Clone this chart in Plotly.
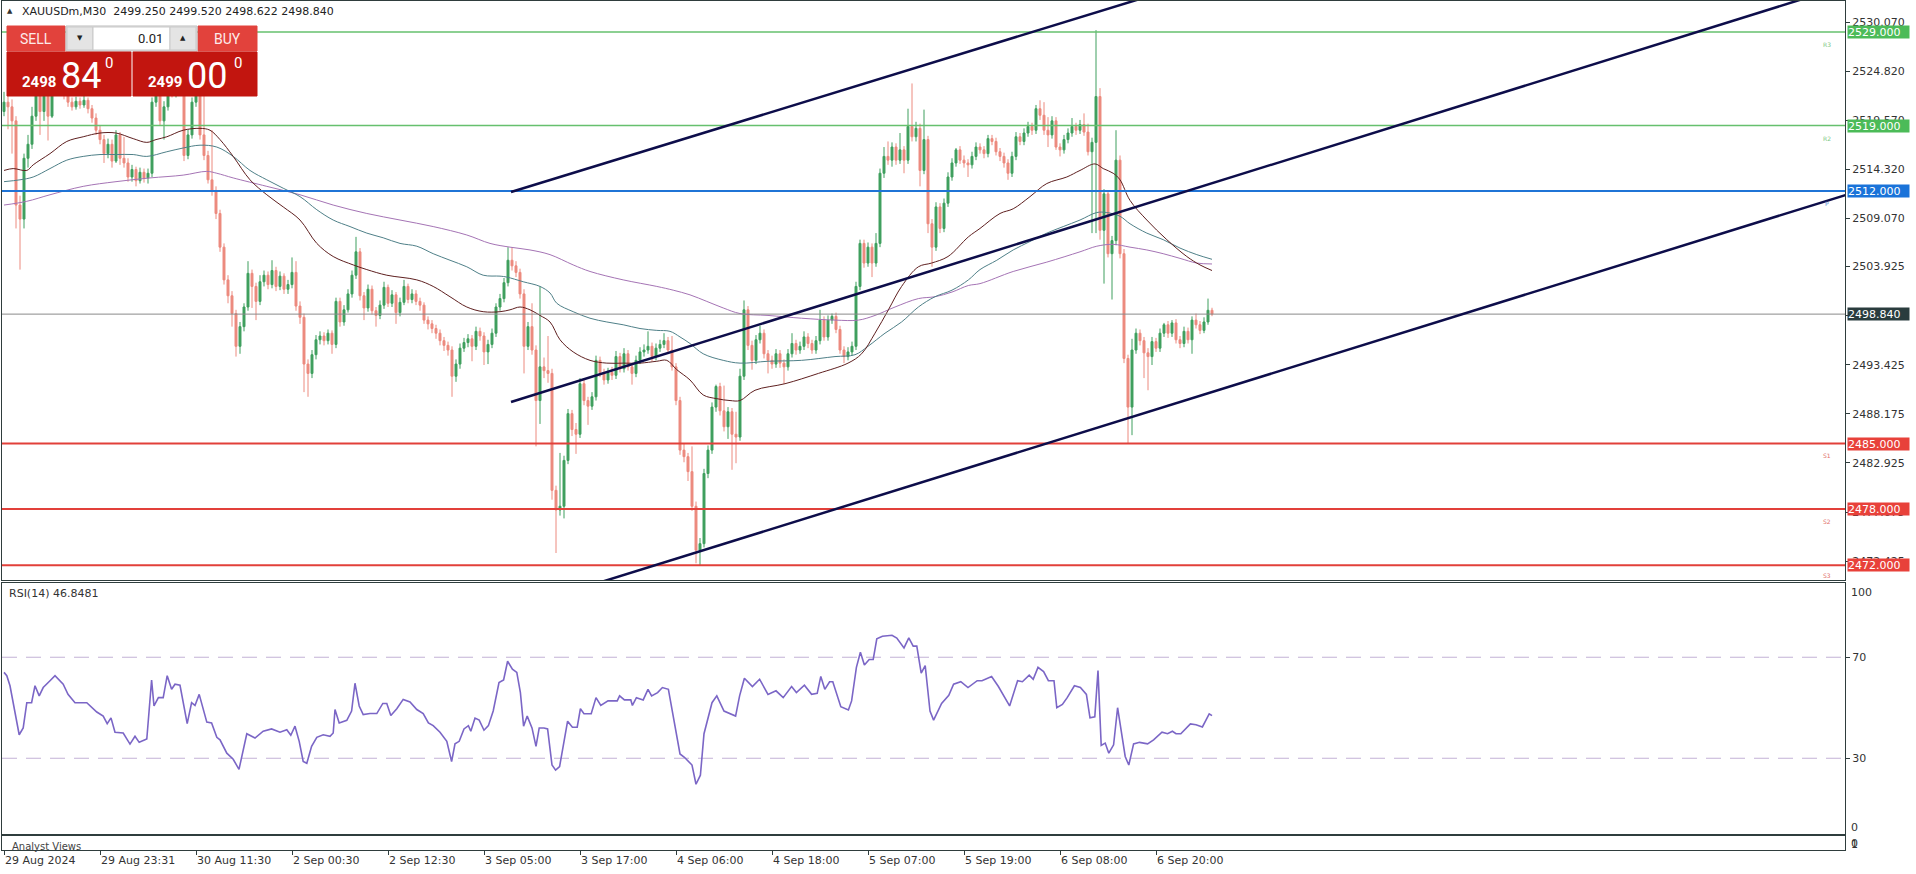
import plotly.graph_objects as go

# ---------------- data ----------------
FIRST_OPEN = 2520.5
CLOSE = [
 2521.5,2521.0,2519.5,2510.5,2509.0,2515.5,2517.0,2520.0,2522.5,2520.5,
 2523.5,2520.0,2523.0,2524.0,2523.0,2522.5,2521.5,2521.0,2521.6,2521.2,
 2521.7,2520.8,2519.8,2518.5,2517.5,2516.0,2517.0,2515.2,2518.0,2515.5,
 2515.0,2513.5,2514.3,2513.1,2514.0,2513.4,2513.9,2521.5,2522.5,2519.5,
 2521.0,2523.5,2522.5,2523.8,2522.8,2515.8,2518.0,2521.5,2522.5,2518.0,
 2515.8,2513.2,2512.0,2509.6,2506.0,2502.5,2500.8,2498.9,2495.4,2497.5,
 2499.6,2503.2,2501.8,2500.2,2502.3,2503.0,2502.0,2503.5,2501.8,2502.9,
 2501.5,2502.0,2503.3,2499.7,2498.5,2493.5,2492.5,2494.5,2496.1,2496.5,
 2496.0,2496.8,2495.6,2500.2,2498.0,2499.3,2501.0,2503.0,2505.5,2500.8,
 2499.5,2501.5,2499.2,2498.7,2499.8,2501.7,2500.0,2500.9,2499.0,2500.1,
 2501.8,2500.4,2501.0,2500.2,2499.8,2498.2,2497.8,2497.3,2496.8,2496.0,
 2495.5,2495.0,2492.2,2493.5,2495.2,2495.8,2496.2,2495.4,2497.0,2496.5,
 2494.8,2495.6,2496.8,2499.6,2500.5,2502.2,2504.6,2504.0,2503.3,2501.0,
 2495.4,2497.5,2495.0,2489.6,2493.2,2492.8,2492.5,2480.0,2477.9,2478.3,
 2483.2,2488.2,2486.5,2486.0,2491.4,2489.6,2489.0,2490.0,2493.9,2492.6,
 2491.8,2492.6,2492.3,2494.3,2493.0,2494.6,2493.2,2492.5,2493.9,2494.8,
 2495.0,2495.4,2494.3,2495.2,2495.6,2496.0,2495.0,2493.2,2489.6,2484.3,
 2483.6,2482.0,2478.3,2473.6,2474.3,2481.8,2484.3,2488.9,2491.1,2488.5,
 2486.8,2488.4,2486.0,2485.7,2492.2,2499.3,2495.5,2493.9,2496.1,2496.8,
 2494.6,2493.9,2493.5,2494.6,2493.6,2493.2,2494.6,2495.7,2495.0,2495.4,
 2496.4,2495.7,2495.0,2496.0,2498.2,2496.4,2498.2,2498.6,2497.2,2495.0,
 2494.3,2494.8,2495.4,2501.8,2506.4,2504.3,2506.0,2504.3,2506.4,2513.9,
 2515.7,2515.3,2516.7,2515.3,2516.4,2515.3,2518.9,2517.8,2518.7,2514.2,
 2517.5,2508.5,2506.0,2510.3,2508.0,2510.7,2513.5,2515.0,2516.4,2515.3,
 2515.0,2514.8,2515.7,2516.7,2516.4,2516.0,2517.6,2517.3,2516.2,2515.7,
 2515.0,2513.9,2515.7,2517.8,2517.3,2518.2,2518.9,2518.5,2520.8,2520.1,
 2518.5,2518.0,2519.5,2516.7,2516.4,2517.5,2518.2,2518.9,2518.5,2519.1,
 2518.3,2516.2,2517.2,2522.1,2507.8,2511.7,2505.3,2506.7,2515.3,2505.3,
 2494.1,2488.9,2495.0,2496.8,2496.0,2494.7,2494.3,2495.9,2495.2,2496.8,
 2497.7,2496.8,2497.9,2496.1,2495.7,2497.0,2496.1,2498.2,2497.7,2497.1,
 2498.0,2499.25,2498.84]
HIGH = [
 2522.6,2522.2,2521.8,2520.0,2511.5,2516.0,2518.0,2521.0,2524.0,2523.0,
 2525.0,2524.0,2524.5,2525.0,2524.8,2523.6,2523.0,2522.0,2522.1,2522.0,
 2522.2,2522.0,2521.2,2520.3,2519.0,2518.0,2517.6,2517.5,2518.5,2518.3,
 2517.8,2515.5,2514.8,2514.6,2514.5,2514.4,2514.4,2522.0,2524.0,2523.0,
 2521.6,2525.0,2524.3,2524.6,2524.4,2523.2,2518.6,2522.0,2523.8,2523.0,
 2522.3,2516.3,2518.5,2512.5,2510.0,2506.4,2503.0,2501.3,2499.3,2498.0,
 2500.0,2504.5,2503.6,2502.2,2503.0,2503.5,2503.4,2504.6,2503.9,2503.4,
 2503.2,2502.5,2504.9,2504.5,2500.2,2498.9,2494.0,2495.0,2496.6,2497.0,
 2496.9,2497.2,2497.1,2500.6,2500.6,2499.8,2501.5,2503.5,2507.1,2505.9,
 2501.2,2502.0,2501.9,2499.6,2500.3,2502.3,2502.0,2501.4,2501.2,2500.6,
 2502.5,2502.1,2501.5,2501.4,2500.6,2500.1,2498.6,2498.2,2497.7,2497.2,
 2496.4,2495.9,2495.4,2494.0,2495.7,2496.3,2496.7,2496.6,2497.5,2497.4,
 2496.9,2496.1,2497.3,2500.0,2501.0,2502.7,2506.0,2506.0,2504.5,2503.7,
 2501.5,2498.0,2500.0,2495.5,2501.8,2494.2,2496.5,2493.0,2480.5,2484.0,
 2483.7,2488.7,2488.6,2487.2,2492.0,2491.8,2490.0,2490.5,2494.4,2494.3,
 2493.0,2493.1,2493.2,2494.9,2494.7,2495.2,2495.0,2493.6,2494.4,2495.3,
 2495.6,2497.0,2495.8,2495.7,2496.1,2496.8,2496.4,2496.5,2493.6,2490.0,
 2485.0,2484.0,2484.7,2478.8,2474.9,2482.3,2484.8,2489.4,2491.3,2491.5,
 2491.2,2488.9,2488.8,2488.4,2493.0,2500.3,2499.7,2496.0,2496.6,2497.6,
 2497.2,2495.0,2494.4,2495.1,2495.0,2494.0,2495.1,2496.8,2496.1,2495.9,
 2497.0,2496.8,2496.1,2496.5,2499.3,2498.6,2498.7,2498.9,2499.0,2497.6,
 2495.4,2495.3,2495.9,2502.3,2506.8,2506.8,2506.5,2506.4,2507.5,2514.4,
 2516.7,2517.3,2517.2,2517.1,2518.2,2516.8,2520.8,2523.5,2519.4,2519.2,
 2520.7,2517.9,2509.0,2510.8,2510.7,2511.2,2514.0,2515.5,2516.6,2516.8,
 2515.8,2515.4,2516.2,2517.2,2517.1,2516.8,2518.0,2518.0,2517.7,2516.6,
 2516.1,2515.4,2516.2,2518.3,2518.2,2518.7,2519.4,2519.3,2521.2,2521.7,
 2521.5,2519.9,2520.0,2519.9,2517.1,2518.0,2518.7,2519.8,2519.3,2519.6,
 2520.3,2519.2,2517.7,2529.2,2523.0,2512.2,2512.0,2507.2,2518.5,2515.8,
 2505.8,2494.5,2496.2,2497.3,2497.2,2496.4,2495.2,2496.4,2496.3,2497.3,
 2497.9,2498.1,2498.2,2498.3,2496.5,2497.5,2497.4,2498.6,2498.9,2498.1,
 2498.5,2500.5,2499.52]
LOW = [
 2520.0,2518.6,2516.0,2508.0,2503.6,2508.0,2514.5,2516.5,2519.5,2518.0,
 2519.5,2517.4,2519.8,2522.5,2522.6,2521.8,2521.0,2520.6,2520.7,2520.8,
 2520.9,2520.3,2519.3,2518.0,2517.0,2515.0,2515.5,2514.5,2515.0,2514.8,
 2514.5,2513.0,2513.0,2512.5,2512.8,2512.9,2512.8,2513.5,2521.0,2519.0,
 2517.5,2520.6,2522.0,2522.0,2522.3,2515.2,2515.4,2517.6,2521.0,2517.5,
 2515.3,2512.8,2511.5,2509.0,2505.5,2502.0,2500.0,2497.5,2494.3,2494.6,
 2497.0,2499.2,2499.5,2498.2,2499.8,2501.8,2501.5,2501.6,2501.3,2501.4,
 2501.0,2501.0,2501.6,2499.2,2497.8,2490.5,2490.0,2492.0,2494.0,2495.6,
 2495.5,2495.6,2494.6,2495.2,2497.5,2497.6,2499.0,2500.6,2502.6,2500.3,
 2498.2,2499.1,2498.8,2497.5,2498.3,2499.4,2499.6,2499.6,2497.8,2498.6,
 2499.8,2500.0,2500.0,2499.8,2499.2,2497.8,2497.2,2496.8,2496.2,2495.5,
 2494.9,2494.4,2490.0,2491.6,2493.0,2494.8,2495.3,2493.8,2495.0,2496.0,
 2493.4,2493.5,2495.2,2496.4,2499.2,2500.1,2501.8,2503.5,2502.8,2500.5,
 2492.5,2495.0,2494.5,2484.7,2487.1,2492.0,2491.5,2479.0,2473.3,2477.3,
 2477.0,2482.8,2485.8,2483.9,2485.6,2489.1,2487.0,2488.6,2489.6,2492.1,
 2491.3,2491.4,2491.8,2491.9,2492.6,2492.6,2492.8,2491.3,2492.1,2493.5,
 2494.3,2494.6,2493.8,2493.9,2494.8,2495.2,2494.6,2492.8,2489.1,2483.8,
 2483.0,2481.0,2477.8,2472.2,2472.0,2473.9,2481.3,2483.9,2488.4,2488.0,
 2486.3,2485.5,2482.2,2482.9,2485.3,2491.8,2495.0,2492.9,2493.5,2495.7,
 2494.1,2492.5,2493.0,2493.1,2493.1,2491.4,2492.8,2494.2,2494.5,2494.6,
 2495.0,2495.2,2494.6,2494.6,2495.6,2496.0,2496.0,2497.8,2496.8,2494.6,
 2493.6,2493.9,2494.4,2495.0,2501.4,2503.8,2503.9,2502.8,2503.9,2506.0,
 2513.4,2514.8,2514.6,2514.8,2514.9,2513.9,2514.9,2517.3,2517.3,2512.5,
 2513.8,2507.5,2503.9,2505.6,2507.5,2507.6,2510.3,2513.1,2514.6,2514.9,
 2514.5,2513.5,2514.4,2515.3,2516.0,2515.5,2515.6,2516.9,2515.8,2515.2,
 2514.5,2513.2,2513.5,2515.3,2516.9,2516.9,2517.8,2518.0,2518.1,2519.6,
 2518.0,2516.7,2517.6,2516.4,2515.7,2516.0,2517.1,2517.8,2518.0,2518.1,
 2517.9,2515.8,2507.5,2507.5,2506.8,2502.1,2504.9,2500.4,2506.2,2504.8,
 2493.6,2485.0,2485.9,2494.6,2495.5,2492.0,2490.7,2493.4,2494.8,2494.8,
 2496.4,2496.3,2496.4,2495.7,2495.2,2495.3,2495.7,2494.6,2497.3,2496.7,
 2496.8,2497.7,2498.622]

MA_FAST_X = [0,2.3,5.7,7.3,11.5,15.7,19.8,24,28,32.3,35.7,38,40.7,44.8,49,51.5,54,57.3,61.5,65.7,
 69.8,74,78.2,82.3,87.3,90.7,95.7,103.2,107.3,111.5,115.7,119.8,124,126.5,129,131.5,134,136.5,139,142.3,
 146.5,150.7,154.8,159,163.2,165.7,168.2,171.5,174.8,178.2,181.5,184,187.75,195.25,203.6,211,214.4,217.75,221.1,224.4,
 228.6,231.9,236,241.1,244,249,252.3,256.5,260.7,265.7,269,272.75,274.8,277.3,279,281.5,285.7,290.7,295.7,299,302]
MA_FAST = [2514.2,2514.4,2514.2,2514.8,2516.0,2517.3,2517.8,2518.2,2518.2,2517.6,2517.2,2517.5,2517.8,2518.5,2518.7,2518.5,2517.5,2515.7,2513.2,2511.6,
 2510.3,2508.9,2506.4,2505.0,2504.1,2503.6,2503.0,2502.5,2501.8,2500.7,2499.6,2499.1,2499.1,2499.3,2499.6,2499.3,2498.7,2498.0,2496.1,2494.8,
 2493.9,2493.6,2493.6,2493.6,2493.8,2493.9,2492.9,2491.8,2490.2,2489.8,2489.6,2489.6,2490.7,2491.4,2492.5,2493.6,2494.6,2496.8,2499.3,2501.8,
 2503.9,2504.3,2505.0,2507.1,2508.0,2509.6,2510.1,2511.4,2512.8,2513.5,2514.2,2514.9,2514.4,2513.9,2513.2,2511.0,2508.9,2506.8,2505.0,2504.1,2503.5]

MA_MID_X = [0,4,7.3,11.5,15.7,19.8,24,28,32.3,35.7,40.7,44.8,49,53.2,57.3,61.5,65.7,69.8,74,78.2,
 82.3,86.5,90.7,94.8,99,103.2,107.3,111.5,115.7,119.8,124,125.7,129.8,134,136.5,138.2,142.3,146.5,150.7,154.8,
 159,163.2,166.5,169,171.5,174.8,179.8,184,191,199.4,207.75,212.75,216,220.25,224.4,228.6,232.75,237,241.1,244,
 248.2,252.3,256.5,260.7,264.8,269,273.2,275.7,279,281.5,285.7,289.8,294,298.2,302]
MA_MID = [2513.0,2513.2,2513.5,2514.4,2515.3,2515.7,2515.9,2515.9,2515.9,2515.7,2516.2,2516.6,2516.9,2516.7,2515.7,2514.2,2513.2,2512.3,2511.4,2510.0,
 2508.9,2508.2,2507.5,2507.0,2506.4,2506.1,2505.3,2504.6,2503.9,2503.0,2502.9,2502.8,2502.3,2501.8,2501.1,2500.0,2499.1,2498.4,2498.0,2497.7,
 2497.3,2497.1,2497.0,2496.4,2495.7,2494.6,2493.9,2493.6,2493.8,2493.9,2494.3,2494.5,2495.4,2496.8,2498.0,2499.6,2500.7,2501.4,2502.5,2503.6,
 2504.6,2505.7,2506.6,2507.5,2508.2,2508.9,2509.7,2509.7,2509.3,2508.5,2507.5,2506.8,2505.9,2505.2,2504.7]

MA_SLOW_X = [0,5.7,11.5,19.8,28,36.5,44.8,50.7,53.2,57.3,65.7,74,82.3,90.7,99,107.3,115.7,121.5,126.5,131.5,
 136.5,142.3,146.5,154.8,163.2,167.3,171.5,175.7,179.8,184,191,199.4,207.75,213.6,217.75,222.75,228.6,232.75,237,241.1,
 244,252.3,260.7,269,273.2,277.3,281.5,285.7,289.8,294,298.2,302]
MA_SLOW = [2510.5,2510.9,2511.6,2512.5,2513.0,2513.4,2513.7,2514.1,2513.9,2513.4,2512.5,2511.6,2510.5,2509.6,2508.9,2508.2,2507.3,2506.4,2506.0,2505.7,
 2505.2,2504.1,2503.4,2502.5,2501.8,2501.4,2500.9,2500.2,2499.5,2498.9,2498.7,2498.4,2498.2,2498.2,2498.7,2499.6,2500.5,2500.7,2501.2,2501.9,
 2502.1,2503.4,2504.4,2505.5,2506.1,2506.3,2506.0,2505.7,2505.3,2504.8,2504.3,2504.2]

RSI_X = [0,0.7,1.5,2.3,3.8,4.8,5.7,6.9,7.75,8.8,9.8,11.5,12.75,14.8,16,17.75,20.7,23.2,24.8,25.8,
 26.75,27.75,29.8,31.5,32.75,33.8,35.7,36.3,36.9,37.5,38.6,39.8,40.8,41.9,42.75,44,45.8,46.9,47.75,48.8,
 50.7,51.9,53.2,54,55.7,57.3,58.75,60.7,62.75,64.8,66.9,69,70.7,71.7,72.75,73.8,74.8,75.7,76.9,78.2,
 79.8,81.5,82.3,82.75,83.8,85.7,86.9,87.75,88.8,89.8,91.5,93.2,94.7,95.7,96.7,98.2,99.8,101.5,103.2,104.8,
 106.1,107.3,109,110.7,111.9,112.75,113.8,115,116.1,116.7,117.75,118.8,120,121.1,122.3,123.75,124.9,125.9,127.1,128.2,
 129.1,129.9,130.8,132,133,133.8,135,135.9,137,137.9,138.9,140.9,142.1,143.3,144.1,145,146.8,148,149.2,151,
 153.3,153.9,155.1,156.7,157.1,158.1,159.8,161,161.9,163.4,164.6,166.1,167.5,169,170.1,172,173,174.1,175,177,
 178.2,180,182.9,183.9,185.1,187.1,188.9,191,193,194.8,196.9,198.1,200.1,201.9,203.3,204.2,205.2,206.4,207.2,209.2,
 211.1,211.9,213.1,214.1,215.1,216.3,217.3,218.2,219.6,222,223.2,225,226.2,227.3,228.2,229.3,230.3,231.5,232.4,234.4,
 236.2,237.4,239.2,241,243.3,244.5,246.9,248.6,251.4,253.4,254.6,256.3,257.3,258.5,259.9,261.1,262.5,263.2,264.6,265.8,
 267.6,269.1,270.6,271.5,272.7,273.5,274.3,275.3,276.2,277.4,278.4,279.4,280.3,281.2,282.4,283.9,285.9,287.4,289.5,290.9,
 292.1,293,294.2,296.6,298,299.6,301.3,302]
RSI_V = [64.0,62.7,58.7,52.0,39.3,42,52,52,58.7,54.7,58,60.7,62.7,59.3,55.3,52,52,48.3,46.7,43.7,
 46,40.3,40,35.6,38.7,36.3,37.6,49.3,61,50.7,54,54,62.7,57.3,59.3,58.9,43.7,52,50.9,55.3,
 44.3,44,38.3,37.3,32,29.6,25.6,39.7,38,40.7,41.6,40.3,41.3,39.1,42.7,36.7,28.7,28,34.7,38.3,
 39.3,38.7,40,49.3,44,45,48.7,59.7,50.7,47.3,47.7,47.7,51.7,51.7,46.9,49.6,53.3,52.3,49.3,47.7,
 44,42.9,40.3,36.7,28.7,35.7,36.7,41.6,42.9,40.7,45.9,45.1,41.1,42.9,48.7,60,61,68.4,65.3,64,
 56,42.7,46.7,42,34.7,42,42,41.6,27.3,25.3,26.7,44.7,42.3,42.3,49.6,47.6,47.6,54,50.9,52.7,
 52.7,54.7,53.1,53.1,50.9,54,53.1,57.3,54.7,56,58,57.3,45.3,31.7,30.4,27.3,19.7,23.3,39.7,52,
 54.7,48.7,46.7,54.7,61.7,58.4,61.3,55.3,56.7,54,58.4,56,58.9,55.3,55.7,62.4,57.3,60.3,60.3,50.4,
 49.1,52.7,66,72,66.9,69.1,69.1,77.3,78.3,78.7,77.6,73.7,77.7,74.4,74.4,63.7,66.7,48.7,45.1,51.7,
 54.9,59.3,60.3,58,60.7,60.7,62.4,58.4,50.7,60.7,60.3,62.9,61.3,66,64.3,60.7,60.7,50,51.3,54,
 58.7,58,55.3,46,46.4,64.7,35.1,36,32,35.3,50,40,30.7,27.3,35.7,36.3,35.7,37.3,40.3,39.7,
 40.7,39.7,39.7,43.6,43.3,42.4,47.6,46.85]

LEVEL_PRICES = [2529.0, 2519.0, 2512.0, 2485.0, 2478.0, 2472.0]
LEVEL_NAMES = ["R3", "R2", "P", "S1", "S2", "S3"]
CURRENT_PRICE = 2498.84
OHLC_TEXT = "2499.250 2499.520 2498.622 2498.840"
SYMBOL = "XAUUSDm,M30"
RSI_LAST = "RSI(14) 46.8481"

PRICE_TICKS = [2530.070, 2524.820, 2519.570, 2514.320, 2509.070, 2503.925,
               2498.675, 2493.425, 2488.175, 2482.925, 2477.675, 2472.425]
PRICE_TICK_TEXT = ["2530.070", "2524.820", "2519.570", "2514.320", "2509.070", "2503.925",
                   "2498.675", "2493.425", "2488.175", "2482.925", "2477.675", "2472.425"]
TIME_TICK_BARS = [0, 24, 48, 72, 96, 120, 144, 168, 192, 216, 240, 264, 288]
TIME_TICK_TEXT = ["29 Aug 2024", "29 Aug 23:31", "30 Aug 11:30", "2 Sep 00:30", "2 Sep 12:30",
                  "3 Sep 05:00", "3 Sep 17:00", "4 Sep 06:00", "4 Sep 18:00", "5 Sep 07:00",
                  "5 Sep 19:00", "6 Sep 08:00", "6 Sep 20:00"]

# trend / channel lines: anchor points (bar index, price)
TL_X0 = [126.75, 126.75, 146.5]
TL_P0 = [2511.90, 2489.45, 2469.83]
TL_X1 = [289.0, 451.5, 464.0]
TL_P1 = [2533.19, 2532.77, 2512.05]

SELL_BIG, SELL_SMALL = "84", "2498"
BUY_BIG, BUY_SMALL = "00", "2499"
LOT = "0.01"

# ---------------- style / layout constants ----------------
W, HGT = 1916, 874
ML, MR, MT, MB = 2, 71, 1, 24
PW = W - ML - MR
PH = HGT - MT - MB
X_RANGE = [-0.5, 460.25]
Y_MAIN = [2470.415, 2532.315]
Y_RSI = [0, 99.4]

GREEN_C = "#3f9f5e"
RED_C = "#ec8a7e"
AXIS_C = "#2f3d3d"
FONT = "DejaVu Sans"
LEVEL_COLORS = ["#66c06e", "#66c06e", "#1f74d6", "#e2403a", "#e2403a", "#e2403a"]
LABEL_BG = ["#4cbb58", "#4cbb58", "#1a73d9", "#e8413a", "#e8413a", "#e8413a"]


def xp(px):
    return (px - ML) / PW


def yp(py):
    return (HGT - MB - py) / PH


OPEN = [FIRST_OPEN] + CLOSE[:-1]
HIGH = [max(h, o, c) for h, o, c in zip(HIGH, OPEN, CLOSE)]
LOW = [min(l, o, c) for l, o, c in zip(LOW, OPEN, CLOSE)]
BARS = list(range(len(CLOSE)))

fig = go.Figure()
fig.add_trace(go.Candlestick(
    x=BARS, open=OPEN, high=HIGH, low=LOW, close=CLOSE,
    increasing=dict(line=dict(color=GREEN_C, width=1), fillcolor=GREEN_C),
    decreasing=dict(line=dict(color=RED_C, width=1), fillcolor=RED_C),
    whiskerwidth=0, xaxis="x", yaxis="y", hoverinfo="skip"))

for xs, ys, col in [(MA_SLOW_X, MA_SLOW, "#a574b5"), (MA_MID_X, MA_MID, "#4f8088"),
                    (MA_FAST_X, MA_FAST, "#5e1f1f")]:
    fig.add_trace(go.Scatter(x=xs, y=ys, mode="lines", line=dict(color=col, width=1),
                             line_shape="spline", xaxis="x", yaxis="y", hoverinfo="skip"))

fig.add_trace(go.Scatter(x=X_RANGE, y=[CURRENT_PRICE] * 2, mode="lines",
                         line=dict(color="#8a8a8a", width=1), xaxis="x", yaxis="y"))
for p, col in zip(LEVEL_PRICES, LEVEL_COLORS):
    wdt = 1.5 if col == "#66c06e" else 2
    fig.add_trace(go.Scatter(x=X_RANGE, y=[p, p], mode="lines",
                             line=dict(color=col, width=wdt), xaxis="x", yaxis="y"))
for x0, p0, x1, p1 in zip(TL_X0, TL_P0, TL_X1, TL_P1):
    fig.add_trace(go.Scatter(x=[x0, x1], y=[p0, p1], mode="lines",
                             line=dict(color="#0d0d4a", width=2.5), xaxis="x", yaxis="y"))

# RSI
for lv in (70, 30):
    fig.add_trace(go.Scatter(x=X_RANGE, y=[lv, lv], mode="lines",
                             line=dict(color="#c3b1d6", width=1, dash="15px,9px"),
                             xaxis="x2", yaxis="y2"))
fig.add_trace(go.Scatter(x=RSI_X, y=RSI_V, mode="lines", line=dict(color="#7b66c6", width=1.6),
                         xaxis="x2", yaxis="y2"))
fig.add_trace(go.Scatter(x=[0], y=[0.5], mode="markers", marker=dict(opacity=0),
                         xaxis="x3", yaxis="y3"))

axis_common = dict(showline=True, mirror=True, linecolor=AXIS_C, linewidth=1,
                   showgrid=False, zeroline=False)
fig.update_layout(
    width=W, height=HGT, margin=dict(l=ML, r=MR, t=MT, b=MB),
    paper_bgcolor="white", plot_bgcolor="white", showlegend=False,
    hovermode=False,
    xaxis=dict(domain=[0, 1], range=X_RANGE, anchor="y", showticklabels=False,
               rangeslider=dict(visible=False), **axis_common),
    xaxis2=dict(domain=[0, 1], range=X_RANGE, anchor="y2", matches="x", showticklabels=False,
                **axis_common),
    xaxis3=dict(domain=[0, 1], range=X_RANGE, anchor="y3", matches="x",
                tickvals=TIME_TICK_BARS, ticktext=TIME_TICK_TEXT, ticks="outside", ticklen=4,
                tickcolor=AXIS_C, ticklabelposition="outside right",
                tickfont=dict(family=FONT, size=11, color="#333"), **axis_common),
    yaxis=dict(domain=[yp(580), yp(1)], range=Y_MAIN, side="right", anchor="x",
               tickvals=PRICE_TICKS, ticktext=PRICE_TICK_TEXT, ticks="outside", ticklen=4,
               tickcolor=AXIS_C, tickfont=dict(family=FONT, size=11, color="#333"), **axis_common),
    yaxis2=dict(domain=[yp(834), yp(583)], range=Y_RSI, side="right", anchor="x2",
                tickvals=[70, 30], ticktext=["70", "30"], ticks="outside", ticklen=4,
                tickcolor=AXIS_C, tickfont=dict(family=FONT, size=11, color="#333"), **axis_common),
    yaxis3=dict(domain=[yp(850), yp(836)], range=[0, 1], side="right", anchor="x3",
                showticklabels=False, **axis_common),
)

ann = []
shapes = []


def text(px, py, s, size=11, color="#333", family=FONT, xanchor="left", yanchor="middle", **kw):
    ann.append(dict(x=xp(px), y=yp(py), xref="paper", yref="paper", text=s, showarrow=False,
                    xanchor=xanchor, yanchor=yanchor,
                    font=dict(family=family, size=size, color=color), **kw))


def rect(x0, y0, x1, y1, fill, line=None):
    shapes.append(dict(type="rect", xref="paper", yref="paper", x0=xp(x0), x1=xp(x1),
                       y0=yp(y1), y1=yp(y0), fillcolor=fill, layer="above",
                       line=dict(color=line or fill, width=1)))


# price labels on the right axis
for p, bg in zip(LEVEL_PRICES + [CURRENT_PRICE], LABEL_BG + ["#2a3c3e"]):
    ann.append(dict(x=xp(1847), y=p, xref="paper", yref="y", text=f"{p:.3f}", showarrow=False,
                    xanchor="left", yanchor="middle", width=61, height=12, borderpad=0,
                    align="left", bgcolor=bg, font=dict(family=FONT, size=11, color="white")))

# level names
for nm, py, col in zip(LEVEL_NAMES, [44, 138, 203, 455, 522, 576],
                       ["#7cc884", "#7cc884", "#5b8fd8", "#e2706a", "#e2706a", "#e2706a"]):
    text(1827, py, nm, size=6, color=col, xanchor="center")

# RSI axis extremes & analyst panel axis
text(1849, 592, "100")
text(1849, 827, "0")
text(1849, 843, "0")
text(1849, 844, "1")

# headers
text(10, 11, "▲", size=7, color="#333", xanchor="center")
text(20, 12, SYMBOL + "  " + OHLC_TEXT, size=11, color="#222")
text(7, 593, RSI_LAST, size=11, color="#333")
text(10, 846, "Analyst Views", size=10, color="#444")

# one-click trading panel
rect(7, 26, 65, 51, "#e2423c")
rect(198, 26, 257, 51, "#e2423c")
rect(66, 26, 197, 51, "#efefef", "#bdbdbd")
rect(67, 27, 93, 50, "#e4e4e4", "#c9c9c9")
rect(93, 27, 170, 50, "#ffffff", "#c9c9c9")
rect(170, 27, 196, 50, "#e4e4e4", "#c9c9c9")
rect(7, 52, 131, 96, "#c2150f")
rect(133, 52, 257, 96, "#c2150f")
text(36, 39, "SELL", size=14, color="#fdeaea", family="Roboto", xanchor="center")
text(227, 39, "BUY", size=14, color="#fdeaea", family="Roboto", xanchor="center")
text(80, 38, "▼", size=7, color="#222", xanchor="center")
text(183, 38, "▲", size=7, color="#222", xanchor="center")
text(165, 39, LOT, size=13, color="#222", family="Roboto", xanchor="right")
text(20, 82, "<b>" + SELL_SMALL + "</b>", size=15, color="white", family="Roboto")
text(59, 76, SELL_BIG, size=36, color="white", family="Roboto")
text(103, 63, "0", size=15, color="white", family="Roboto")
text(146, 82, "<b>" + BUY_SMALL + "</b>", size=15, color="white", family="Roboto")
text(185, 76, BUY_BIG, size=36, color="white", family="Roboto")
text(232, 63, "0", size=15, color="white", family="Roboto")

fig.update_layout(annotations=ann, shapes=shapes)
fig.write_html("out.html", config={"displayModeBar": False},
               post_script="document.body.style.margin='0';document.body.style.overflow='hidden';")
